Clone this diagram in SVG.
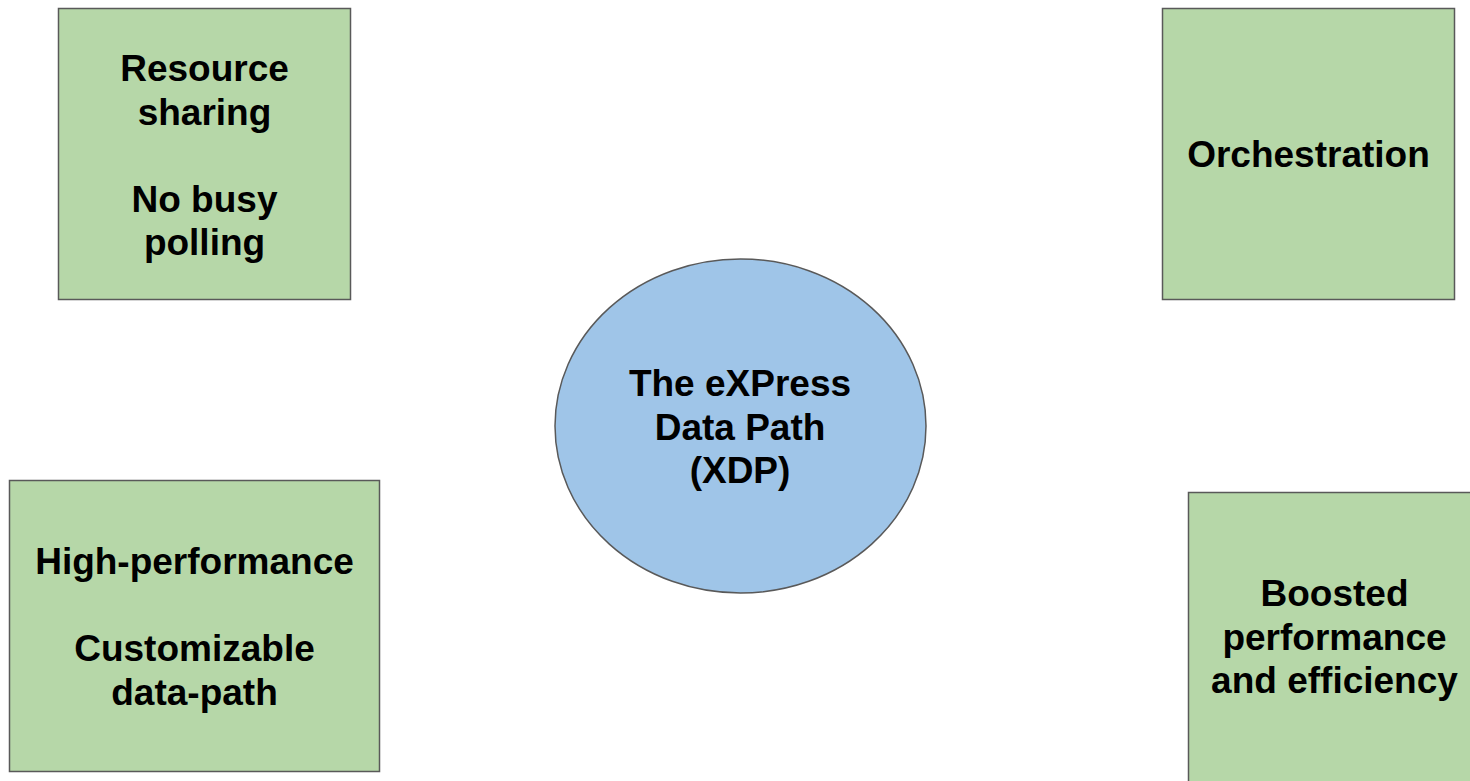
<svg xmlns="http://www.w3.org/2000/svg" width="1470" height="781" viewBox="0 0 1470 781">
  <style>
    .box { fill: #b6d7a8; stroke: #595959; stroke-width: 1.5; }
    .core { fill: #9fc5e8; stroke: #595959; stroke-width: 1.5; }
    .label { font-family: "Liberation Sans", Arial, sans-serif; font-size: 37px; font-weight: bold; fill: #000000; text-anchor: middle; }
  </style>
  <rect x="0" y="0" width="1470" height="781" fill="#ffffff"/>

  <g id="connectors"></g>

  <g id="resource-sharing">
    <rect class="box" x="58.5" y="8.5" width="292" height="291"/>
    <text class="label" x="204.5" y="81">Resource</text>
    <text class="label" x="204.5" y="124.5">sharing</text>
    <text class="label" x="204.5" y="211.5">No busy</text>
    <text class="label" x="204.5" y="255">polling</text>
  </g>

  <g id="orchestration">
    <rect class="box" x="1162.5" y="8.5" width="292" height="291"/>
    <text class="label" x="1308.5" y="167">Orchestration</text>
  </g>

  <g id="xdp">
    <ellipse class="core" cx="740.5" cy="426" rx="185.5" ry="167"/>
    <text class="label" x="740" y="396">The eXPress</text>
    <text class="label" x="740" y="439.5">Data Path</text>
    <text class="label" x="740" y="483">(XDP)</text>
  </g>

  <g id="high-performance">
    <rect class="box" x="9.5" y="480.5" width="370" height="291"/>
    <text class="label" x="194.5" y="574">High-performance</text>
    <text class="label" x="194.5" y="661">Customizable</text>
    <text class="label" x="194.5" y="704.5">data-path</text>
  </g>

  <g id="boosted-performance">
    <rect class="box" x="1188.5" y="492.5" width="292" height="292"/>
    <text class="label" x="1334.5" y="606">Boosted</text>
    <text class="label" x="1334.5" y="649.5">performance</text>
    <text class="label" x="1334.5" y="693">and efficiency</text>
  </g>
</svg>
